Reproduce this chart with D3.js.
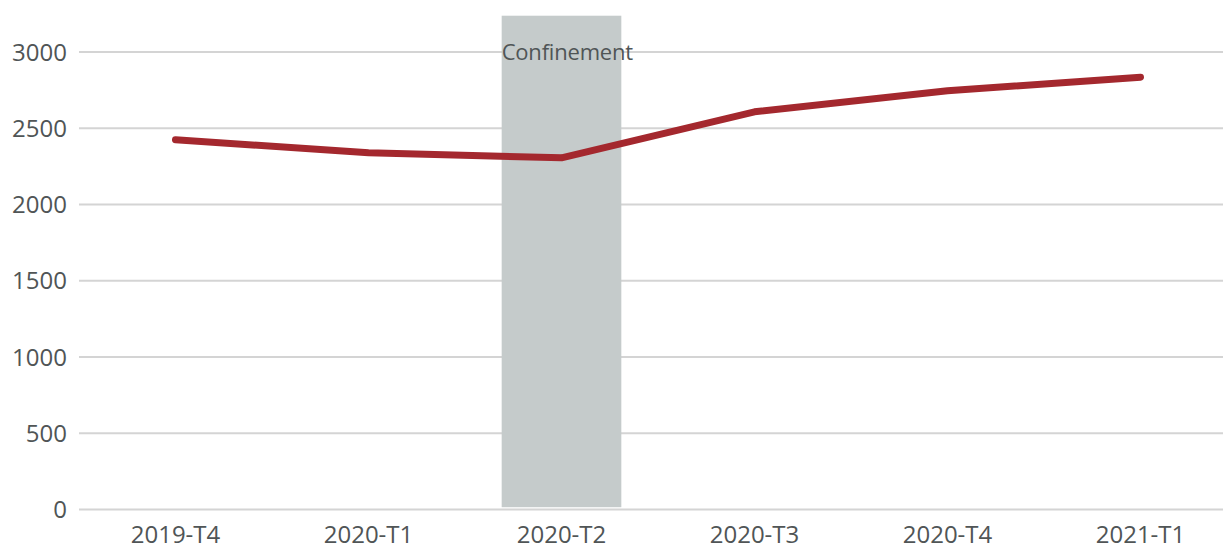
<!DOCTYPE html>
<html>
<head>
<meta charset="utf-8">
<script src="https://cdn.jsdelivr.net/npm/d3@7"></script>
<style>
    body { margin: 0; background: #fff; }
    svg text { font-family: "Open Sans", sans-serif; fill: #505556; }
</style>
</head>
<body>
<svg id="chart" width="1223" height="550"></svg>
<script>
// quarters on the x axis
const quarters = ['2019-T4', '2020-T1', '2020-T2', '2020-T3', '2020-T4', '2021-T1'];
// series values
const values = [2425, 2339, 2306, 2608, 2746, 2835];
const yTicks = [0, 500, 1000, 1500, 2000, 2500, 3000];
// shaded period
const shadeQuarter = '2020-T2';
const shadeLabel = 'Confinement';
const shadeRange = [15, 3238];

const width = 1223;
const height = 550;
const svg = d3.select('#chart');

const x = d3.scaleBand()
    .domain(quarters)
    .range([79, 1237]);

const y = d3.scaleLinear()
    .domain([0, 3000])
    .range([509.5, 52]);

// gridlines
svg.append('g')
    .selectAll('line')
    .data(yTicks)
    .join('line')
    .attr('x1', 79)
    .attr('x2', width)
    .attr('y1', d => y(d))
    .attr('y2', d => y(d))
    .attr('stroke', '#d4d4d4')
    .attr('stroke-width', 2);

// shaded band
const cx = x(shadeQuarter) + x.bandwidth() / 2;
const halfW = x.bandwidth() * 0.31;
svg.append('rect')
    .attr('x', cx - halfW)
    .attr('width', halfW * 2)
    .attr('y', y(shadeRange[1]))
    .attr('height', y(shadeRange[0]) - y(shadeRange[1]))
    .attr('fill', '#c5cbcb');

svg.append('text')
    .attr('x', cx - halfW)
    .attr('y', y(2945))
    .attr('font-size', 22)
    .attr('letter-spacing', -0.2)
    .text(shadeLabel);

// y labels
svg.append('g')
    .selectAll('text')
    .data(yTicks)
    .join('text')
    .attr('x', 67)
    .attr('y', d => y(d))
    .attr('dy', '0.36em')
    .attr('text-anchor', 'end')
    .attr('font-size', 24)
    .text(d => d);

// x labels
svg.append('g')
    .selectAll('text')
    .data(quarters)
    .join('text')
    .attr('x', d => x(d) + x.bandwidth() / 2)
    .attr('y', 543)
    .attr('text-anchor', 'middle')
    .attr('font-size', 24)
    .text(d => d);

// the line
const line = d3.line()
    .x((d, i) => x(quarters[i]) + x.bandwidth() / 2)
    .y(d => y(d));

svg.append('path')
    .datum(values)
    .attr('d', line)
    .attr('fill', 'none')
    .attr('stroke', '#a4282e')
    .attr('stroke-width', 7)
    .attr('stroke-linecap', 'round')
    .attr('stroke-linejoin', 'round');
</script>
</body>
</html>
